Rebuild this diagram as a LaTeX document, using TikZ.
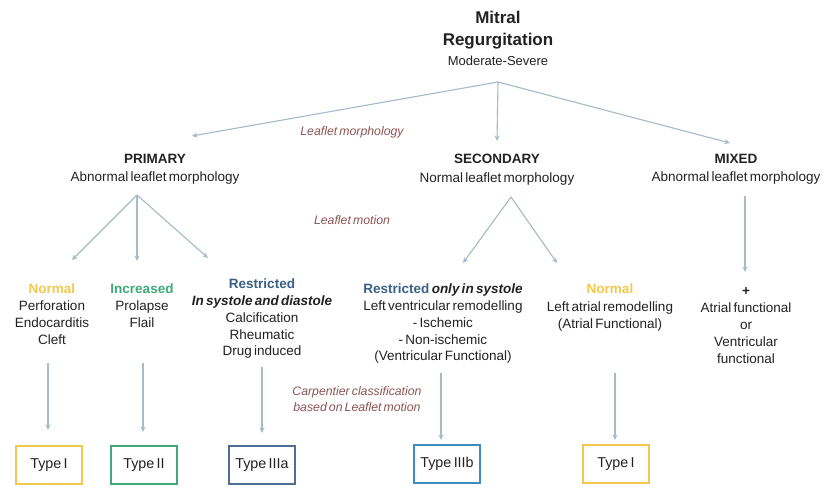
\documentclass[tikz,border=0pt]{standalone}
\usepackage{fontspec}
\setmainfont[WordSpace=0.6]{Liberation Sans}
\usetikzlibrary{arrows.meta}
\definecolor{arr}{HTML}{A6BAC7}
\definecolor{lbl}{HTML}{8E5454}
\definecolor{ylw}{HTML}{F2C94E}
\definecolor{grn}{HTML}{3DAA78}
\definecolor{dblue}{HTML}{4E6E95}
\definecolor{lblue}{HTML}{3C8DC4}
\definecolor{rblue}{HTML}{3B6088}
\definecolor{ink}{HTML}{222222}
\begin{document}
\begin{tikzpicture}[x=1pt,y=-1pt,
  txt/.style={align=center, anchor=north, inner sep=0pt, text=ink,
    font=\fontsize{13.5}{16.7}\selectfont},
  head/.style={align=center, anchor=north, inner sep=0pt, text=ink,
    font=\fontsize{13.5}{18.5}\selectfont},
  lab/.style={inner sep=0pt, text=lbl, align=center,
    font=\fontsize{12.3}{15.5}\selectfont\itshape},
  con/.style={draw=arr, line width=1.1pt, -{Stealth[length=5.5pt,width=5pt]}},
  typebox/.style={draw=#1, line width=2.4pt, minimum width=66pt, minimum height=38pt,
    inner sep=0pt, text=ink, font=\fontsize{14.3}{16}\selectfont}]
\useasboundingbox (0,0) rectangle (839,495);
\fill[white] (0,0) rectangle (839,495);

% title
\node[align=center, anchor=north, inner sep=0pt, text=ink,
  font=\fontsize{17}{22}\selectfont\bfseries] (title) at (498,11) {Mitral\\Regurgitation};
\node[inner sep=0pt, text=ink, font=\fontsize{13}{16}\selectfont] (sev) at (498,61) {Moderate-Severe};

% level 1
\node[head] (prim) at (155,154) {\textbf{PRIMARY}\\Abnormal leaflet morphology};
\node[head] (sec) at (497,154) {\textbf{SECONDARY}\\Normal leaflet morphology};
\node[head] (mix) at (736,154) {\textbf{MIXED}\\Abnormal leaflet morphology};

% labels
\node[lab] (lmorph) at (352,132) {Leaflet morphology};
\node[lab] (lmot) at (352,220) {Leaflet motion};
\node[lab] (carp) at (357,399) {Carpentier classification\\based on Leaflet motion};

% level 2
\node[txt] (nrm1) at (52,284) {\textcolor{ylw}{\textbf{Normal}}\\Perforation\\Endocarditis\\Cleft};
\node[txt] (incr) at (142,284) {\textcolor{grn}{\textbf{Increased}}\\Prolapse\\Flail};
\node[txt] (rst1) at (262,279) {\textcolor{rblue}{\textbf{Restricted}}\\\textbf{\itshape In systole and diastole}\\Calcification\\Rheumatic\\Drug induced};
\node[txt] (rst2) at (443,284) {\textcolor{rblue}{\textbf{Restricted}} \textbf{\itshape only in systole}\\Left ventricular remodelling\\- Ischemic\\- Non-ischemic\\(Ventricular Functional)};
\node[txt, font=\fontsize{13.5}{17.5}\selectfont] (nrm2) at (610,284) {\textcolor{ylw}{\textbf{Normal}}\\Left atrial remodelling\\(Atrial Functional)};
\node[txt, font=\fontsize{13.5}{17}\selectfont] (mxd) at (746,287) {\textbf{+}\\Atrial functional\\or\\Ventricular\\functional};

% type boxes
\node[typebox=ylw] (t1) at (49,465) {Type I};
\node[typebox=grn] (t2) at (144,465) {Type II};
\node[typebox=dblue] (t3a) at (262,465) {Type IIIa};
\node[typebox=lblue] (t3b) at (447,464) {Type IIIb};
\node[typebox=ylw] (t1b) at (616,464) {Type I};

% coordinates
\coordinate (r0) at (498,82);
\coordinate (pin) at (192,136);
\coordinate (sin) at (497,141);
\coordinate (min) at (730,143);
\coordinate (pa) at (137,195);
\coordinate (sa) at (511,197);
\coordinate (ma) at (745,196);
\coordinate (e1) at (72,260);
\coordinate (e2) at (137,261);
\coordinate (e3) at (208,258);
\coordinate (e4) at (463,263);
\coordinate (e5) at (557,263);
\coordinate (e6) at (745,272);
\coordinate (v1s) at (48,363);  \coordinate (v1e) at (48,430);
\coordinate (v2s) at (143,363); \coordinate (v2e) at (143,432);
\coordinate (v3s) at (262,367); \coordinate (v3e) at (262,433);
\coordinate (v4s) at (441,373); \coordinate (v4e) at (441,440);
\coordinate (v5s) at (615,373); \coordinate (v5e) at (615,440);

\draw[con] (r0) -- (pin);
\draw[con] (r0) -- (sin);
\draw[con] (r0) -- (min);
\draw[con] (pa) -- (e1);
\draw[con] (pa) -- (e2);
\draw[con] (pa) -- (e3);
\draw[con] (sa) -- (e4);
\draw[con] (sa) -- (e5);
\draw[con] (ma) -- (e6);
\draw[con] (v1s) -- (v1e);
\draw[con] (v2s) -- (v2e);
\draw[con] (v3s) -- (v3e);
\draw[con] (v4s) -- (v4e);
\draw[con] (v5s) -- (v5e);
\end{tikzpicture}
\end{document}
